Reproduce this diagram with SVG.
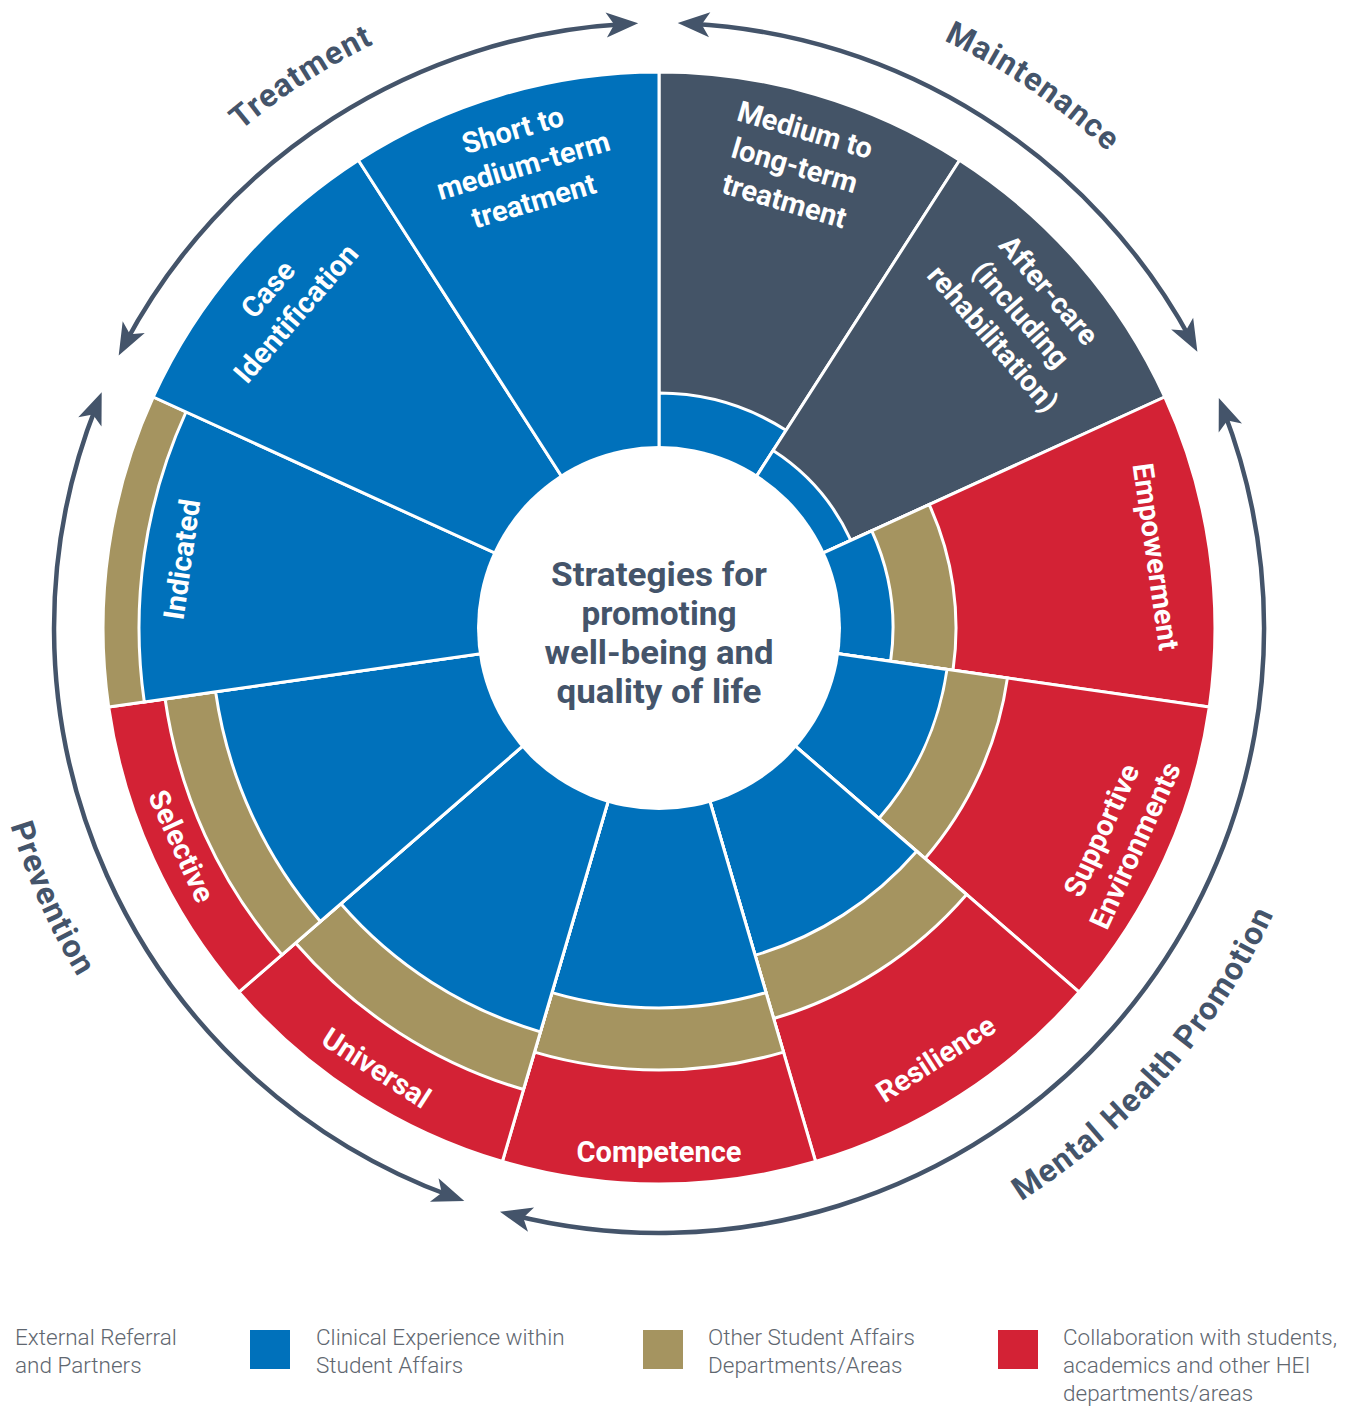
<svg xmlns="http://www.w3.org/2000/svg" width="1357" height="1407" viewBox="0 0 1357 1407">
<defs>
<style>
.w{stroke:#fff;stroke-width:3}
.b{fill:#0071bb}.d{fill:#445467}.o{fill:#a59460}.r{fill:#d32235}
.lbl{font-family:Roboto,"Liberation Sans",sans-serif;font-weight:700;font-size:29px;fill:#fff;text-anchor:middle}
.ctr{font-family:Roboto,"Liberation Sans",sans-serif;font-weight:700;font-size:33px;fill:#44546a;text-anchor:middle}
.arc{fill:none;stroke:#44546a;stroke-width:4.5;marker-start:url(#ah);marker-end:url(#ah)}
.al{font-family:Roboto,"Liberation Sans",sans-serif;font-weight:700;font-size:32px;fill:#44546a;text-anchor:middle;letter-spacing:1.2px}
.leg{font-family:Roboto,"Liberation Sans",sans-serif;font-weight:300;font-size:22.5px;fill:#5f6770}
</style>
<marker id="ah" viewBox="-22 -14 36 28" refX="0" refY="0" markerWidth="36" markerHeight="28" markerUnits="userSpaceOnUse" orient="auto-start-reverse">
<path d="M13,0 L-19,-12.5 L-11,0 L-19,12.5 Z" fill="#44546a"/>
</marker>
<path id="pTreat" d="M37.4,437.9 A650,650 0 0 1 738.2,-17.1"/>
<path id="pMaint" d="M605.4,-19.8 A650,650 0 0 1 1288.5,444.8"/>
<path id="pMHP" d="M761.6,1298.2 A678,678 0 0 0 1336.8,643.4"/>
<path id="pPrev" d="M-15.3,557.1 A678,678 0 0 0 260.5,1176.5"/>
</defs>
<rect width="1357" height="1407" fill="#fff"/>

<g id="seg-medium-long">
<path class="d w" d="M659,628 L659,72 A556,556 0 0 1 959.6,160.2 Z"/>
<path class="b w" d="M659,628 L659,393 A235,235 0 0 1 786,430.3 Z"/>
<g transform="translate(794.8,165.5) rotate(16.364)"><text class="lbl"><tspan x="0" y="-27">Medium to</tspan><tspan x="0" y="10">long-term</tspan><tspan x="0" y="47">treatment</tspan></text></g>
</g>
<g id="seg-aftercare">
<path class="d w" d="M659,628 L959.6,160.2 A556,556 0 0 1 1164.7,397 Z"/>
<path class="b w" d="M659,628 L773.1,450.5 A211,211 0 0 1 850.9,540.4 Z"/>
<g transform="translate(1021,314.3) rotate(49.091)"><text class="lbl"><tspan x="0" y="-27">After-care</tspan><tspan x="0" y="10">(including</tspan><tspan x="0" y="47">rehabilitation)</tspan></text></g>
</g>
<g id="seg-empowerment">
<path class="r w" d="M659,628 L1164.7,397 A556,556 0 0 1 1209.3,707.1 Z"/>
<path class="o w" d="M659,628 L929.2,504.6 A297,297 0 0 1 953,670.3 Z"/>
<path class="b w" d="M659,628 L871.8,530.8 A234,234 0 0 1 890.6,661.3 Z"/>
<g transform="translate(1155.9,556.6) rotate(81.818)"><text class="lbl"><tspan x="0" y="10">Empowerment</tspan></text></g>
</g>
<g id="seg-supportive">
<path class="r w" d="M659,628 L1209.3,707.1 A556,556 0 0 1 1079.2,992.1 Z"/>
<path class="o w" d="M659,628 L1007.4,678.1 A352,352 0 0 1 925,858.5 Z"/>
<path class="b w" d="M659,628 L947,669.4 A291,291 0 0 1 878.9,818.6 Z"/>
<g transform="translate(1118.3,837.8) rotate(-65.455)"><text class="lbl"><tspan x="0" y="-8.5">Supportive</tspan><tspan x="0" y="28.5">Environments</tspan></text></g>
</g>
<g id="seg-resilience">
<path class="r w" d="M659,628 L1079.2,992.1 A556,556 0 0 1 815.6,1161.5 Z"/>
<path class="o w" d="M659,628 L966.6,894.5 A407,407 0 0 1 773.7,1018.5 Z"/>
<path class="b w" d="M659,628 L916.7,851.3 A341,341 0 0 1 755.1,955.2 Z"/>
<g transform="translate(935.8,1058.7) rotate(-32.727)"><text class="lbl"><tspan x="0" y="10">Resilience</tspan></text></g>
</g>
<g id="seg-competence">
<path class="r w" d="M659,628 L815.6,1161.5 A556,556 0 0 1 502.4,1161.5 Z"/>
<path class="o w" d="M659,628 L783.5,1052.1 A442,442 0 0 1 534.5,1052.1 Z"/>
<path class="b w" d="M659,628 L766,992.6 A380,380 0 0 1 552,992.6 Z"/>
<g transform="translate(659,1152)"><text class="lbl"><tspan x="0" y="10">Competence</tspan></text></g>
</g>
<g id="seg-universal">
<path class="r w" d="M659,628 L502.4,1161.5 A556,556 0 0 1 238.8,992.1 Z"/>
<path class="o w" d="M659,628 L523.5,1089.5 A481,481 0 0 1 295.5,943 Z"/>
<path class="b w" d="M659,628 L540.4,1031.9 A421,421 0 0 1 340.9,903.7 Z"/>
<g transform="translate(376.3,1068) rotate(32.727)"><text class="lbl"><tspan x="0" y="10">Universal</tspan></text></g>
</g>
<g id="seg-selective">
<path class="r w" d="M659,628 L238.8,992.1 A556,556 0 0 1 108.7,707.1 Z"/>
<path class="o w" d="M659,628 L281.9,954.8 A499,499 0 0 1 165.1,699 Z"/>
<path class="b w" d="M659,628 L320.4,921.4 A448,448 0 0 1 215.6,691.8 Z"/>
<g transform="translate(181.5,846.1) rotate(65.455)"><text class="lbl"><tspan x="0" y="10">Selective</tspan></text></g>
</g>
<g id="seg-indicated">
<path class="o w" d="M659,628 L108.7,707.1 A556,556 0 0 1 153.3,397 Z"/>
<path class="b w" d="M659,628 L144.3,702 A520,520 0 0 1 186,412 Z"/>
<g transform="translate(181.9,559.4) rotate(-81.818)"><text class="lbl"><tspan x="0" y="10">Indicated</tspan></text></g>
</g>
<g id="seg-case">
<path class="b w" d="M659,628 L153.3,397 A556,556 0 0 1 358.4,160.2 Z"/>
<g transform="translate(281.9,301.2) rotate(-49.091)"><text class="lbl"><tspan x="0" y="-8.5">Case</tspan><tspan x="0" y="28.5">Identification</tspan></text></g>
</g>
<g id="seg-short-medium">
<path class="b w" d="M659,628 L358.4,160.2 A556,556 0 0 1 659,72 Z"/>
<g transform="translate(523.2,165.5) rotate(-16.364)"><text class="lbl"><tspan x="0" y="-27">Short to</tspan><tspan x="0" y="10">medium-term</tspan><tspan x="0" y="47">treatment</tspan></text></g>
</g>

<g id="center">
<circle cx="659" cy="628" r="182" fill="#fff"/>
<text class="ctr"><tspan x="659" y="586" textLength="216" lengthAdjust="spacingAndGlyphs">Strategies for</tspan><tspan x="659" y="625" textLength="155" lengthAdjust="spacingAndGlyphs">promoting</tspan><tspan x="659" y="664" textLength="229" lengthAdjust="spacingAndGlyphs">well-being and</tspan><tspan x="659" y="703" textLength="205" lengthAdjust="spacingAndGlyphs">quality of life</tspan></text>
</g>

<g id="connectors">
<path id="arc-treatment" class="arc" d="M124.8,344 A605,605 0 0 1 625.2,24"/>
<path id="arc-maintenance" class="arc" d="M690.7,23.8 A605,605 0 0 1 1191.2,340.3"/>
<path id="arc-promotion" class="arc" d="M1223.5,410.2 A605,605 0 0 1 512.6,1215"/>
<path id="arc-prevention" class="arc" d="M452.1,1196.5 A605,605 0 0 1 96.9,404.3"/>
</g>

<g id="phase-labels">
<text class="al"><textPath href="#pTreat" startOffset="50%">Treatment</textPath></text>
<text class="al"><textPath href="#pMaint" startOffset="50%">Maintenance</textPath></text>
<text class="al"><textPath href="#pMHP" startOffset="50%">Mental Health Promotion</textPath></text>
<text class="al"><textPath href="#pPrev" startOffset="50%">Prevention</textPath></text>
</g>

<g id="legend">
<text class="leg"><tspan x="15" y="1345">External Referral</tspan><tspan x="15" y="1373">and Partners</tspan></text>
<rect x="250" y="1330" width="40" height="39" fill="#0071bb"/>
<text class="leg"><tspan x="316" y="1345">Clinical Experience within</tspan><tspan x="316" y="1373">Student Affairs</tspan></text>
<rect x="643" y="1330" width="40" height="39" fill="#a59460"/>
<text class="leg"><tspan x="708" y="1345">Other Student Affairs</tspan><tspan x="708" y="1373">Departments/Areas</tspan></text>
<rect x="998" y="1330" width="40" height="39" fill="#d32235"/>
<text class="leg"><tspan x="1063" y="1345">Collaboration with students,</tspan><tspan x="1063" y="1373">academics and other HEI</tspan><tspan x="1063" y="1401">departments/areas</tspan></text>
</g>
</svg>
